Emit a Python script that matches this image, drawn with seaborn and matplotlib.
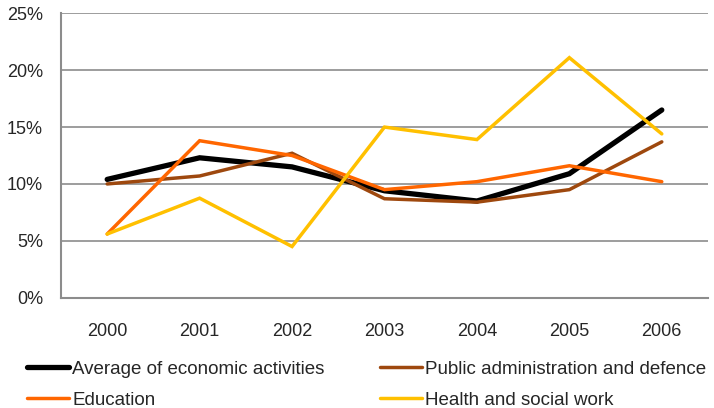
import matplotlib
matplotlib.use("Agg")
import matplotlib.pyplot as plt
import seaborn as sns
import pandas as pd
from matplotlib.ticker import FuncFormatter, FixedLocator

years = ["2000", "2001", "2002", "2003", "2004", "2005", "2006"]
average = [10.4, 12.3, 11.5, 9.4, 8.5, 10.9, 16.5]
public_admin = [10.0, 10.7, 12.7, 8.7, 8.4, 9.5, 13.7]
education = [5.6, 13.8, 12.5, 9.5, 10.2, 11.6, 10.2]
health = [5.6, 8.75, 4.5, 15.0, 13.9, 21.1, 14.4]

series_names = ["Average of economic activities", "Public administration and defence",
                "Education", "Health and social work"]
colors = ["#000000", "#9E480E", "#FF6600", "#FFC000"]
widths = [3.8, 2.5, 2.5, 2.5]

rows = []
for name, vals in zip(series_names, [average, public_admin, education, health]):
    for i, (y, v) in enumerate(zip(years, vals)):
        rows.append({"pos": i, "year": y, "value": v, "series": name})
df = pd.DataFrame(rows)

sns.set_style("white")
plt.rcParams["font.family"] = ["Liberation Sans", "DejaVu Sans"]

fig = plt.figure(figsize=(7.14, 4.08), dpi=100)
ax = fig.add_axes([0.0854, 0.2703, 0.9062, 0.6971])

for name, c, w in zip(series_names, colors, widths):
    sub = df[df["series"] == name]
    sns.lineplot(data=sub, x="pos", y="value", color=c, linewidth=w, ax=ax,
                 label=name, legend=False, solid_capstyle="round", solid_joinstyle="miter")

ax.set_xlim(-0.5, 6.5)
ax.set_ylim(0, 25)
ax.set_yticks([0, 5, 10, 15, 20, 25])
ax.yaxis.set_major_formatter(FuncFormatter(lambda v, p: f"{int(v)}%"))
ax.set_xticks(range(len(years)))
ax.set_xticklabels(years)
ax.xaxis.set_minor_locator(FixedLocator([i - 0.5 for i in range(len(years) + 1)]))
ax.tick_params(axis="x", which="major", length=0, pad=18, labelsize=13)
ax.tick_params(axis="x", which="minor", length=5, color="#8c8c8c", direction="out", width=1.2)
ax.tick_params(axis="y", length=5, color="#8c8c8c", width=1.2, direction="out", labelsize=13, pad=8)
ax.grid(axis="y", color="#8c8c8c", linewidth=1.2)
ax.set_axisbelow(True)
for s in ["top", "right"]:
    ax.spines[s].set_visible(False)
for s in ["left", "bottom"]:
    ax.spines[s].set_color("#8c8c8c")
    ax.spines[s].set_linewidth(1.5)
ax.set_xlabel("")
ax.set_ylabel("")

handles, labels = ax.get_legend_handles_labels()
leg_kw = dict(loc="upper left", frameon=False, fontsize=13.5, handlelength=2.25,
              handletextpad=0.17, labelspacing=0.75, borderaxespad=0, borderpad=0)
leg1 = fig.legend([handles[0], handles[2]], [labels[0], labels[2]],
                  bbox_to_anchor=(27 / 714, 0.116), **leg_kw)
leg2 = fig.legend([handles[1], handles[3]], [labels[1], labels[3]],
                  bbox_to_anchor=(380 / 714, 0.116), **leg_kw)
for lg in (leg1, leg2):
    for h in lg.get_lines():
        h.set_solid_capstyle("round")

fig.savefig("out.png", dpi=100)
